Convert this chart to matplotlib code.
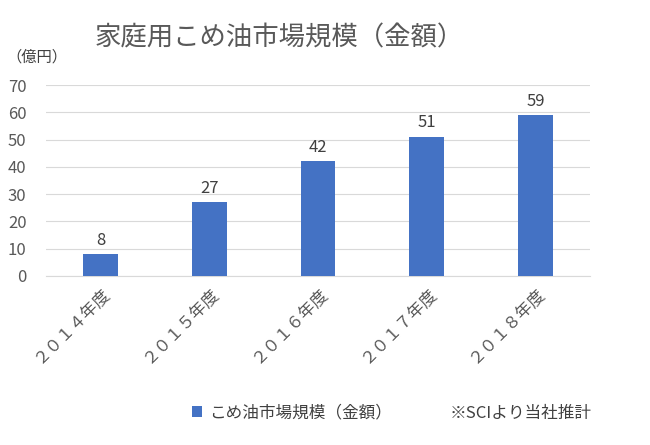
import matplotlib.pyplot as plt
import numpy as np

plt.rcParams['font.family'] = ['Noto Sans CJK JP', 'DejaVu Sans']

years = ['２０１４年度', '２０１５年度', '２０１６年度', '２０１７年度', '２０１８年度']
values = [8, 27, 42, 51, 59]
bar_color = '#4472C4'

fig = plt.figure(figsize=(6.5, 4.45), dpi=100)
ax = fig.add_axes([46 / 650, 1 - 276 / 445, 544 / 650, 191 / 445])

x = np.arange(len(years))
bars = ax.bar(x, values, width=0.32, color=bar_color, label='こめ油市場規模（金額）', zorder=3)
for xi, v in zip(x, values):
    ax.text(xi, v + 2, str(v), ha='center', va='bottom', fontsize=12, color='#404040')

ax.set_ylim(0, 70)
ax.set_xlim(-0.5, len(years) - 0.5)
ax.set_yticks(range(0, 71, 10))
ax.yaxis.grid(True, color='#D9D9D9', linewidth=0.8, zorder=0)
ax.set_xticks(x)
ax.set_xticklabels(years, rotation=45, ha='right', rotation_mode='anchor',
                   fontsize=12, color='#595959')
ax.tick_params(axis='y', labelsize=12, labelcolor='#595959', length=0, pad=14)
ax.tick_params(axis='x', length=0, pad=6)
for s in ['top', 'right', 'left']:
    ax.spines[s].set_visible(False)
ax.spines['bottom'].set_color('#D9D9D9')

fig.text(95 / 650, 1 - 38 / 445, '家庭用こめ油市場規模（金額）', fontsize=19,
         color='#595959', va='center')
fig.text(6 / 650, 1 - 57 / 445, '（億円）', fontsize=11, color='#404040', va='center')

fig.legend(handles=[bars], loc='center', bbox_to_anchor=(292 / 650, 1 - 413 / 445),
           frameon=False, fontsize=12, handlelength=0.6, handleheight=0.6,
           handletextpad=0.4, labelcolor='#404040')
fig.text(450 / 650, 1 - 413 / 445, '※SCIより当社推計', fontsize=12,
         color='#404040', va='center')

fig.savefig('out.png', dpi=100)
